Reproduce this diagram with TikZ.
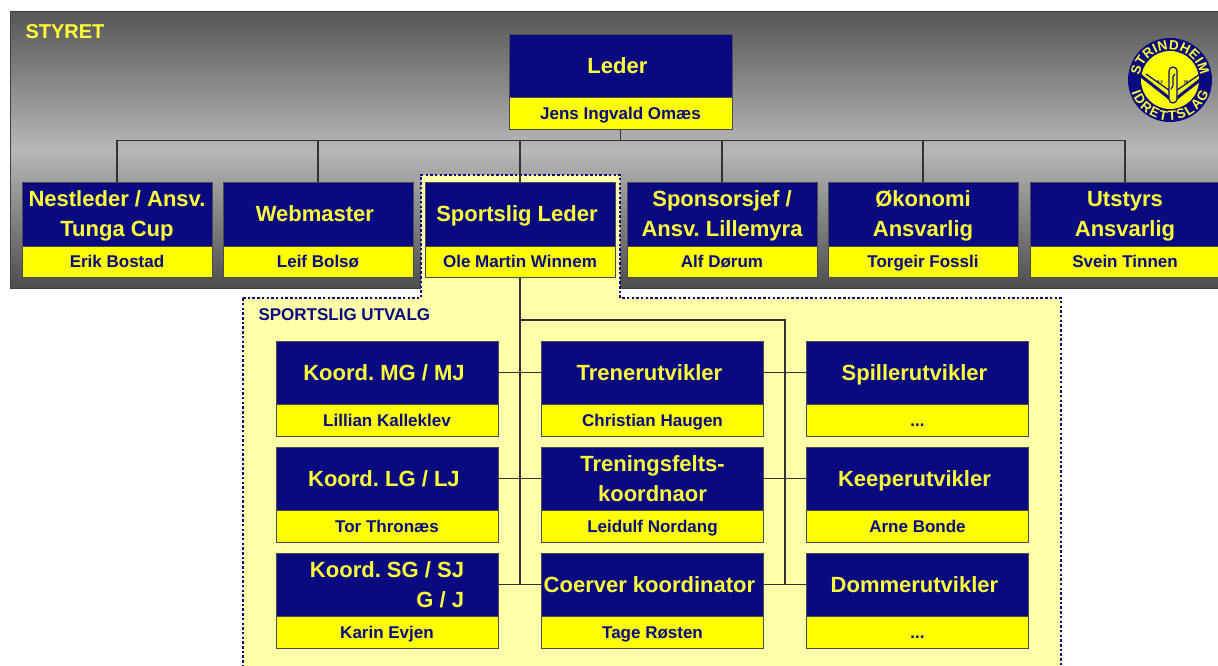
\documentclass[tikz,border=0pt]{standalone}
\usepackage{fontspec}
\setmainfont{Liberation Sans}
\frenchspacing
\usetikzlibrary{positioning,decorations.text}
\definecolor{styreblaa}{HTML}{0A0A80}
\definecolor{styregul}{HTML}{FFFF00}
\definecolor{tekstgul}{HTML}{FFFF3A}
\definecolor{utvalggul}{HTML}{FFFFAA}

\begin{document}
\begin{tikzpicture}[x=1pt, y=-1pt,
    tittel/.style={
        rectangle,
        draw=black!70,
        fill=styreblaa,
        text=tekstgul,
        font=\fontsize{22}{30}\selectfont\bfseries,
        align=center,
        text depth=0pt,
        inner sep=2pt,
        minimum width=190pt,
        minimum height=64pt
    },
    navn/.style={
        rectangle,
        draw=black!70,
        fill=styregul,
        text=styreblaa,
        font=\fontsize{17}{20}\selectfont\bfseries,
        text height=12pt,
        text depth=0pt,
        inner sep=1pt,
        minimum width=190pt,
        minimum height=31pt
    },
    utvalg/.style={minimum width=222pt, minimum height=63pt},
    utvalgnavn/.style={minimum width=222pt, minimum height=32pt},
    linje/.style={draw=black!80, line width=1.2pt},
    ringtekst/.style={decorate, decoration={text along path, text align=fit to path,
        text={|\fontsize{13.5}{13.5}\selectfont\bfseries\color{tekstgul}|#1}}}
]
    \useasboundingbox (0,0) rectangle (1218,666);

    \shade[top color=black!66, bottom color=black!28] (10,12) rectangle (1232,150);
    \shade[top color=black!28, bottom color=black!70] (10,150) rectangle (1232,288);
    \draw[black!75, line width=1pt] (10,12) rectangle (1232,288);

    \node (styret) [anchor=west, text=tekstgul, font=\fontsize{20}{20}\selectfont\bfseries, shift={(22,32)}]
    {
        STYRET
    };



    \draw[fill=utvalggul, draw=styreblaa, line width=2.5pt, dash pattern=on 2.5pt off 2.2pt]
        (243,298) -- (421,298) -- (421,175) -- (620,175) -- (620,298) -- (1061,298)
        -- (1061,672) -- (243,672) -- cycle;

    \node (sportslig_utvalg) [anchor=west, text=styreblaa, font=\fontsize{17}{17}\selectfont\bfseries, shift={(255,315)}]
    {
        SPORTSLIG UTVALG
    };



    \begin{scope}[shift={(1170,80)}, y=1pt]
        \fill[styreblaa] (0,0) circle[radius=42];
        \fill[styregul] (0,0) circle[radius=29];
        \draw[styreblaa, line width=3pt, line join=round] (-34,8) -- (3,-21) -- (39,7);
        \draw[styreblaa, line width=1.2pt, line join=round] (-24,6) -- (3,-13) -- (30,6);
        \draw[styreblaa, fill=styregul, line width=1.2pt, rounded corners=4pt] (-1,-23) rectangle (7,13);
        \draw[styreblaa, line width=1.2pt] (5,6) .. controls (0,4) and (6,-6) .. (1,-9);
        \node (logo_tall_a) [text=styreblaa, font=\fontsize{4}{4}\selectfont\bfseries, inner sep=0pt] at (-10,-2) {8-2};
        \node (logo_tall_b) [text=styreblaa, font=\fontsize{4}{4}\selectfont\bfseries, inner sep=0pt] at (16,-2) {26};
        \path[ringtekst=STRINDHEIM] (172:30.5) arc[start angle=172, end angle=8, radius=30.5];
        \path[ringtekst=IDRETTSLAG] (198:40.5) arc[start angle=198, end angle=342, radius=40.5];
    \end{scope}



    \node (leder) [tittel, minimum width=223pt, minimum height=63pt, shift={(620.5,65.5)}]
    {
        Leder
    };
    \node (leder_navn) [navn, minimum width=223pt, minimum height=32pt, below=0pt of leder]
    {
        Jens Ingvald Omæs
    };



    \node (nestleder) [tittel, shift={(117,214)}]
    {
        Nestleder / Ansv.\\Tunga Cup
    };
    \node (nestleder_navn) [navn, below=0pt of nestleder]
    {
        Erik Bostad
    };
    \node (webmaster) [tittel, shift={(318,214)}]
    {
        Webmaster
    };
    \node (webmaster_navn) [navn, below=0pt of webmaster]
    {
        Leif Bolsø
    };
    \node (sportslig_leder) [tittel, shift={(520,214)}]
    {
        Sportslig Leder
    };
    \node (sportslig_leder_navn) [navn, below=0pt of sportslig_leder]
    {
        Ole Martin Winnem
    };
    \node (sponsorsjef) [tittel, shift={(722,214)}]
    {
        Sponsorsjef /\\Ansv. Lillemyra
    };
    \node (sponsorsjef_navn) [navn, below=0pt of sponsorsjef]
    {
        Alf Dørum
    };
    \node (okonomi) [tittel, shift={(923,214)}]
    {
        Økonomi\\Ansvarlig
    };
    \node (okonomi_navn) [navn, below=0pt of okonomi]
    {
        Torgeir Fossli
    };
    \node (utstyr) [tittel, shift={(1125,214)}]
    {
        Utstyrs\\Ansvarlig
    };
    \node (utstyr_navn) [navn, below=0pt of utstyr]
    {
        Svein Tinnen
    };



    \node (koord_mg) [tittel, utvalg, shift={(387,372.5)}]
    {
        Koord. MG / MJ
    };
    \node (koord_mg_navn) [navn, utvalgnavn, below=0pt of koord_mg]
    {
        Lillian Kalleklev
    };
    \node (trener) [tittel, utvalg, shift={(652.5,372.5)}]
    {
        Trenerutvikler
    };
    \node (trener_navn) [navn, utvalgnavn, below=0pt of trener]
    {
        Christian Haugen
    };
    \node (spiller) [tittel, utvalg, shift={(917.5,372.5)}]
    {
        Spillerutvikler
    };
    \node (spiller_navn) [navn, utvalgnavn, below=0pt of spiller]
    {
        ...
    };

    \node (koord_lg) [tittel, utvalg, shift={(387,478.5)}]
    {
        Koord. LG / LJ
    };
    \node (koord_lg_navn) [navn, utvalgnavn, below=0pt of koord_lg]
    {
        Tor Thronæs
    };
    \node (treningsfelt) [tittel, utvalg, shift={(652.5,478.5)}]
    {
        Treningsfelts-\\koordnaor
    };
    \node (treningsfelt_navn) [navn, utvalgnavn, below=0pt of treningsfelt]
    {
        Leidulf Nordang
    };
    \node (keeper) [tittel, utvalg, shift={(917.5,478.5)}]
    {
        Keeperutvikler
    };
    \node (keeper_navn) [navn, utvalgnavn, below=0pt of keeper]
    {
        Arne Bonde
    };

    \node (koord_sg) [tittel, utvalg, align=right, shift={(387,584.5)}]
    {
        Koord. SG / SJ\\G / J
    };
    \node (koord_sg_navn) [navn, utvalgnavn, below=0pt of koord_sg]
    {
        Karin Evjen
    };
    \node (coerver) [tittel, utvalg, shift={(652.5,584.5)}]
    {
        Coerver koordinator
    };
    \node (coerver_navn) [navn, utvalgnavn, below=0pt of coerver]
    {
        Tage Røsten
    };
    \node (dommer) [tittel, utvalg, shift={(917.5,584.5)}]
    {
        Dommerutvikler
    };
    \node (dommer_navn) [navn, utvalgnavn, below=0pt of dommer]
    {
        ...
    };



    \foreach \post in {nestleder, webmaster, sportslig_leder, sponsorsjef, okonomi, utstyr}
        \draw[linje] (leder_navn.south) -- ++(0,11) -| (\post.north);

    \coordinate (utvalg_gren) at (785,320);
    \draw[linje] (sportslig_leder_navn.south) -- (sportslig_leder_navn.south |- koord_sg.east);
    \draw[linje] (sportslig_leder_navn.south |- utvalg_gren) -- (utvalg_gren) -- (utvalg_gren |- dommer.west);
    \foreach \venstre/\midt/\hoyre in {koord_mg/trener/spiller, koord_lg/treningsfelt/keeper, koord_sg/coerver/dommer}
    {
        \draw[linje] (\venstre.east) -- (\midt.west);
        \draw[linje] (\midt.east) -- (\hoyre.west);
    }


\end{tikzpicture}
\end{document}
